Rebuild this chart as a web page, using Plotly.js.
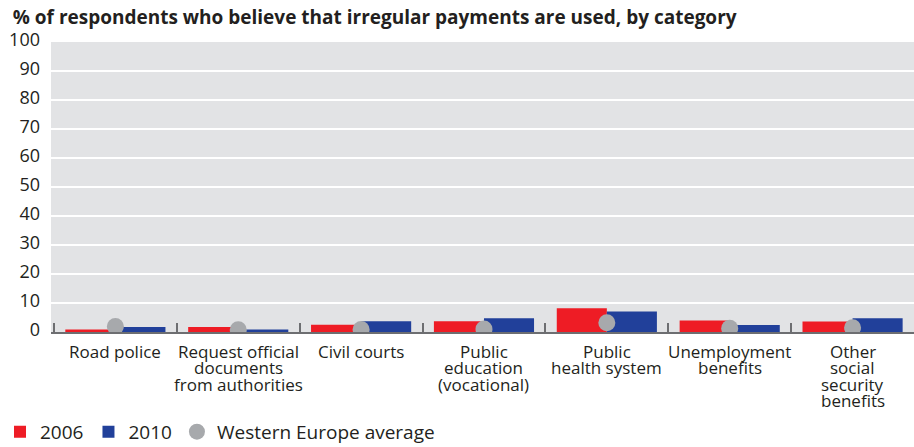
<!DOCTYPE html>
<html>
<head>
<meta charset="utf-8">
<script src="https://cdn.plot.ly/plotly-3.0.1.min.js"></script>
<style>html,body{margin:0;padding:0;background:#fff;}#chart{width:914px;height:447px;}</style>
</head>
<body>
<div id="chart"></div>
<script>
var categories = ["Road police", "Request official<br>documents<br>from authorities", "Civil courts", "Public<br>education<br>(vocational)", "Public<br>health system", "Unemployment<br>benefits", "Other<br>social<br>security<br>benefits"];
var values2006 = [0.9, 1.7, 2.5, 3.7, 8.2, 4.0, 3.6];
var values2010 = [1.7, 0.9, 3.7, 4.7, 7.1, 2.4, 4.7];
var westernEurope = [1.9, 0.8, 0.9, 1.0, 3.2, 1.3, 1.5];
var yTicks = [0, 10, 20, 30, 40, 50, 60, 70, 80, 90, 100];

var FONT = "Open Sans, sans-serif";
var TXT = "#231f20";

var traces = [
  {type: "bar", name: "2006", x: categories, y: values2006, marker: {color: "#ee1c25"}},
  {type: "bar", name: "2010", x: categories, y: values2010, marker: {color: "#21409a"}},
  {type: "scatter", mode: "markers", name: "Western Europe average", x: categories, y: westernEurope,
   marker: {color: "#a7a9ac", size: 17, symbol: "circle"}}
];

var annotations = [];
categories.forEach(function (c) {
  c.split("<br>").forEach(function (line, i) {
    annotations.push({
      x: c, xref: "x", y: 0, yref: "paper", yanchor: "middle", xanchor: "center",
      yshift: -(19 + i * 16.5), text: line, showarrow: false,
      font: {family: FONT, size: 17, color: TXT}
    });
  });
});

var layout = {
  width: 914, height: 447,
  margin: {l: 51, r: 0, t: 42, b: 115},
  paper_bgcolor: "#ffffff",
  plot_bgcolor: "#e2e3e5",
  title: {text: "<b>% of respondents who believe that irregular payments are used, by category</b>",
          x: 0.014, xanchor: "left", xref: "container", y: 0.962, yanchor: "middle", yref: "container",
          font: {family: FONT, size: 19, color: TXT}},
  barmode: "group", bargap: 0.185, bargroupgap: 0,
  xaxis: {type: "category", range: [-0.524, 6.5], showticklabels: false,
          ticks: "inside", tickson: "boundaries", ticklen: 9, tickwidth: 2, tickcolor: "#6d6e71",
          showline: true, linecolor: "#6d6e71", linewidth: 2, showgrid: false, zeroline: false, fixedrange: true},
  yaxis: {range: [0, 100], tickvals: yTicks, ticktext: yTicks.map(String),
          showgrid: true, gridcolor: "#ffffff", gridwidth: 2, zeroline: false, showline: false,
          ticks: "", ticklabelstandoff: 10, ticklabelshift: -2,
          tickfont: {family: FONT, size: 18, color: TXT}, fixedrange: true},
  showlegend: true,
  legend: {orientation: "h", xref: "container", yref: "container", x: -0.006, xanchor: "left", y: 0.034, yanchor: "middle",
           font: {family: FONT, size: 19, color: TXT}, itemwidth: 30, traceorder: "normal", bgcolor: "rgba(0,0,0,0)"},
  annotations: annotations
};

Plotly.newPlot("chart", traces, layout, {displayModeBar: false, staticPlot: true});
</script>
</body>
</html>
